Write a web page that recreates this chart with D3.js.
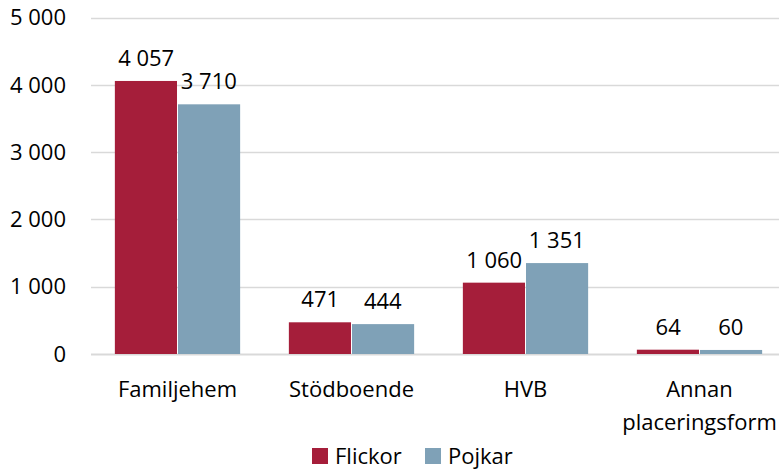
<!DOCTYPE html>
<html>
<head>
<meta charset="utf-8">
<script src="https://cdn.jsdelivr.net/npm/d3@7"></script>
<style>
  body { margin: 0; background: #fff; }
  text { font-family: "Open Sans", "Noto Sans", sans-serif; fill: #000; }
</style>
</head>
<body>
<svg id="chart" width="779" height="470"></svg>
<script>
// chart data
var categories = ["Familjehem", "Stödboende", "HVB", "Annan placeringsform"];
var seriesNames = ["Flickor", "Pojkar"];
var flickor = [4057, 471, 1060, 64];
var pojkar = [3710, 444, 1351, 60];
var yTicks = [0, 1000, 2000, 3000, 4000, 5000];

var COLORS = ["#a51e3a", "#7fa1b7"];
var GRID_COLOR = "#d9d9d9";
var FONT_SIZE = "22px";

var svg = d3.select("#chart");

var margin = { left: 90.5, right: 786.5, top: 17.5, bottom: 354 };

var x0 = d3.scaleBand()
    .domain(categories)
    .range([margin.left, margin.right])
    .paddingInner(0.28)
    .paddingOuter(0.14);

var x1 = d3.scaleBand()
    .domain(seriesNames)
    .range([0, x0.bandwidth()]);

var y = d3.scaleLinear()
    .domain([0, 5000])
    .range([margin.bottom, margin.top]);

var fmt = function(v) {
    return d3.format(",")(v).replace(/,/g, " ");
};

// gridlines
svg.append("g")
    .selectAll("line")
    .data(yTicks)
    .join("line")
    .attr("x1", 91)
    .attr("x2", 779)
    .attr("y1", function(d) { return Math.round(y(d)) + 0.5; })
    .attr("y2", function(d) { return Math.round(y(d)) + 0.5; })
    .attr("stroke", GRID_COLOR)
    .attr("stroke-width", function(d) { return d === 0 ? 2 : 1.5; });

// y labels
svg.append("g")
    .selectAll("text")
    .data(yTicks)
    .join("text")
    .attr("x", 66)
    .attr("y", function(d) { return y(d); })
    .attr("dy", "0.35em")
    .attr("text-anchor", "end")
    .style("font-size", FONT_SIZE)
    .text(fmt);

var rows = categories.map(function(c, i) {
    return { cat: c, values: [flickor[i], pojkar[i]] };
});

var groups = svg.append("g")
    .selectAll("g")
    .data(rows)
    .join("g")
    .attr("transform", function(d) { return "translate(" + x0(d.cat) + ",0)"; });

groups.selectAll("rect")
    .data(function(d) {
        return d.values.map(function(v, j) { return { key: seriesNames[j], value: v, idx: j }; });
    })
    .join("rect")
    .attr("x", function(d) { return x1(d.key) + (d.idx === 1 ? 0.5 : 0); })
    .attr("width", x1.bandwidth() - 0.5)
    .attr("y", function(d) { return y(d.value); })
    .attr("height", function(d) { return y(0) - y(d.value); })
    .attr("fill", function(d) { return COLORS[d.idx]; });

groups.selectAll("text.val")
    .data(function(d) {
        return d.values.map(function(v, j) { return { key: seriesNames[j], value: v }; });
    })
    .join("text")
    .attr("class", "val")
    .attr("x", function(d) { return x1(d.key) + x1.bandwidth() / 2; })
    .attr("y", function(d) { return y(d.value) - 15; })
    .attr("text-anchor", "middle")
    .style("font-size", FONT_SIZE)
    .text(function(d) { return fmt(d.value); });

// category labels
var catLabels = svg.append("g")
    .selectAll("text")
    .data(categories)
    .join("text")
    .attr("text-anchor", "middle")
    .style("font-size", FONT_SIZE)
    .attr("transform", function(d) {
        return "translate(" + (x0(d) + x0.bandwidth() / 2) + ",397)";
    });

catLabels.each(function(d) {
    var parts = d === "Annan placeringsform" ? ["Annan", "placeringsform"] : [d];
    d3.select(this).selectAll("tspan")
        .data(parts)
        .join("tspan")
        .attr("x", 0)
        .attr("dy", function(p, i) { return i === 0 ? 0 : 33; })
        .text(function(p) { return p; });
});

// legend
var legend = svg.append("g").attr("transform", "translate(312,456)");
var legendX = [0, 113];
seriesNames.forEach(function(name, i) {
    var g = legend.append("g").attr("transform", "translate(" + legendX[i] + ",0)");
    g.append("rect")
        .attr("x", 0)
        .attr("y", -8)
        .attr("width", 16)
        .attr("height", 16)
        .attr("fill", COLORS[i]);
    g.append("text")
        .attr("x", 23)
        .attr("y", 0)
        .attr("dy", "0.35em")
        .style("font-size", FONT_SIZE)
        .text(name);
});
</script>
</body>
</html>
